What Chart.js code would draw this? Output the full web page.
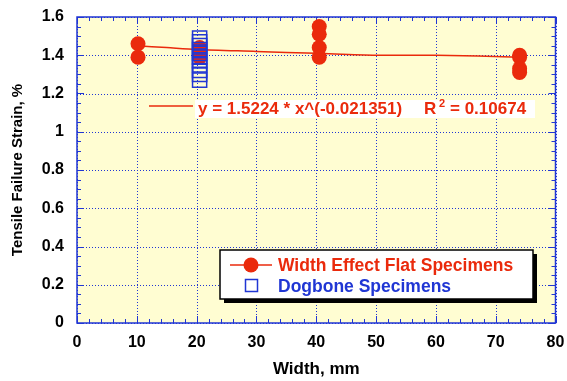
<!DOCTYPE html>
<html>
<head>
<meta charset="utf-8">
<script src="https://cdn.jsdelivr.net/npm/chart.js@4.4.1/dist/chart.umd.min.js"></script>
<style>
	html, body { margin: 0; padding: 0; background: #ffffff; }
	#wrap { width: 567px; height: 381px; position: relative; }
</style>
</head>
<body>
<div id="wrap"><canvas id="strainChart"></canvas></div>
<script>
// Width effect flat specimens (mm, %)
const flatWidth = [10.2, 10.2, 20.5, 20.5, 20.5, 40.5, 40.5, 40.5, 40.5, 74, 74, 74, 74];
const flatStrain = [1.46, 1.39, 1.44, 1.42, 1.39, 1.55, 1.51, 1.44, 1.39, 1.40, 1.39, 1.33, 1.31];

// Dogbone specimens
const dogboneWidth = [20.5, 20.5, 20.5, 20.5, 20.5, 20.5, 20.5, 20.5, 20.5, 20.5, 20.5];
const dogboneStrain = [1.49, 1.47, 1.45, 1.43, 1.41, 1.39, 1.37, 1.35, 1.32, 1.30, 1.27];

// Power fit
const fitWidth = [10, 15, 20, 30, 40, 50, 60, 74];
const fitStrain = [1.45, 1.44, 1.43, 1.42, 1.41, 1.40, 1.40, 1.39];

const xTicks = [0, 10, 20, 30, 40, 50, 60, 70, 80];
const yTicks = [0, 0.2, 0.4, 0.6, 0.8, 1, 1.2, 1.4, 1.6];

const fitText = "y = 1.5224 * x^(-0.021351)";
const fitR = "R";
const fitText2 = "= 0.10674";

const RED = "#ea2a0c";
const BLUE = "#2036d4";
const FONT = "'Liberation Sans', Arial, Helvetica, sans-serif";

function pairs(xs, ys) {
	return xs.map((x, i) => ({ x: x, y: ys[i] }));
}

// Background, grid, ticks, frame, fit label and legend box
const framePlugin = {
	id: "frame",
	beforeDatasetsDraw(chart) {
		const { ctx, chartArea: a, scales } = chart;
		const xs = scales.x, ys = scales.y;
		ctx.save();
		ctx.fillStyle = "#fffdd2";
		ctx.fillRect(a.left, a.top, a.right - a.left, a.bottom - a.top);

		// dotted major grid
		ctx.strokeStyle = BLUE;
		ctx.lineWidth = 1;
		ctx.setLineDash([1, 2]);
		xTicks.forEach((v) => {
			const px = Math.round(xs.getPixelForValue(v)) + 0.5;
			ctx.beginPath(); ctx.moveTo(px, a.top); ctx.lineTo(px, a.bottom); ctx.stroke();
		});
		yTicks.forEach((v) => {
			const py = Math.round(ys.getPixelForValue(v)) + 0.5;
			ctx.beginPath(); ctx.moveTo(a.left, py); ctx.lineTo(a.right, py); ctx.stroke();
		});
		ctx.setLineDash([]);

		// inward ticks on all sides
		for (let v = 0; v <= 80; v += 2) {
			const px = Math.round(xs.getPixelForValue(v)) + 0.5;
			const len = v % 10 === 0 ? 7 : 4;
			ctx.beginPath();
			ctx.moveTo(px, a.bottom); ctx.lineTo(px, a.bottom - len);
			ctx.moveTo(px, a.top); ctx.lineTo(px, a.top + len);
			ctx.stroke();
		}
		for (let i = 0; i <= 32; i++) {
			const py = Math.round(ys.getPixelForValue(i * 0.05)) + 0.5;
			const len = i % 4 === 0 ? 7 : 4;
			ctx.beginPath();
			ctx.moveTo(a.left, py); ctx.lineTo(a.left + len, py);
			ctx.moveTo(a.right, py); ctx.lineTo(a.right - len, py);
			ctx.stroke();
		}

		ctx.lineWidth = 1.5;
		ctx.strokeRect(a.left, a.top, a.right - a.left, a.bottom - a.top);
		ctx.restore();
	},
	afterDatasetsDraw(chart) {
		const { ctx } = chart;
		ctx.save();
		ctx.textBaseline = "middle";

		// fit equation
		ctx.fillStyle = "#ffffff";
		ctx.fillRect(195, 100, 340, 18);
		ctx.strokeStyle = RED;
		ctx.lineWidth = 1.5;
		ctx.beginPath(); ctx.moveTo(149, 106); ctx.lineTo(193, 106); ctx.stroke();
		ctx.fillStyle = RED;
		ctx.font = "bold 17px " + FONT;
		ctx.fillText(fitText, 198, 109);
		ctx.fillText(fitR, 424, 109);
		ctx.fillText(fitText2, 450, 109);
		ctx.font = "bold 11px " + FONT;
		ctx.fillText("2", 439, 104);

		// legend box with shadow
		const lx = 220, ly = 250, lw = 313, lh = 49;
		ctx.fillStyle = "#000000";
		ctx.fillRect(lx + 4, ly + 4, lw, lh);
		ctx.fillStyle = "#ffffff";
		ctx.fillRect(lx, ly, lw, lh);
		ctx.strokeStyle = "#000000";
		ctx.lineWidth = 1.5;
		ctx.strokeRect(lx, ly, lw, lh);

		const flatDs = chart.data.datasets[1];
		const dogDs = chart.data.datasets[0];
		ctx.strokeStyle = RED;
		ctx.beginPath(); ctx.moveTo(230, 265); ctx.lineTo(272, 265); ctx.stroke();
		ctx.fillStyle = RED;
		ctx.beginPath(); ctx.arc(251, 265, 7.5, 0, Math.PI * 2); ctx.fill();
		ctx.strokeStyle = BLUE;
		ctx.strokeRect(245.5, 279.5, 12, 12);

		ctx.font = "bold 17.5px " + FONT;
		ctx.fillStyle = RED;
		ctx.fillText(flatDs.label, 278, 266);
		ctx.fillStyle = BLUE;
		ctx.fillText(dogDs.label, 278, 287);
		ctx.restore();
	},
};

const chartConfig = {
	type: "scatter",
	data: {
		datasets: [
			{
				label: "Dogbone Specimens",
				data: pairs(dogboneWidth, dogboneStrain),
				pointStyle: "rect",
				pointRadius: 10,
				borderColor: BLUE,
				backgroundColor: "rgba(0,0,0,0)",
				borderWidth: 1.5,
				order: 0,
			},
			{
				label: "Width Effect Flat Specimens",
				data: pairs(flatWidth, flatStrain),
				pointStyle: "circle",
				pointRadius: 7.5,
				borderColor: RED,
				backgroundColor: RED,
				borderWidth: 0,
				order: 1,
			},
			{
				label: "Power fit",
				data: pairs(fitWidth, fitStrain),
				showLine: true,
				pointRadius: 0,
				borderColor: RED,
				borderWidth: 1.5,
				tension: 0.3,
				order: 2,
			},
		],
	},
	options: {
		responsive: true,
		maintainAspectRatio: false,
		animation: false,
		layout: { padding: { top: 17, right: 10, left: 9, bottom: 0 } },
		plugins: {
			legend: { display: false },
			tooltip: { enabled: false },
		},
		scales: {
			x: {
				type: "linear",
				min: 0,
				max: 80,
				afterBuildTicks: (s) => { s.ticks = xTicks.map((v) => ({ value: v })); },
				afterFit: (s) => {
					s.height = 58;
					s.paddingLeft = 0;
					s.paddingRight = 0;
				},
				grid: { display: false, drawTicks: false },
				border: { display: false },
				ticks: {
					padding: 10,
					color: "#000000",
					font: { family: FONT, size: 16, weight: "bold" },
				},
				title: {
					display: true,
					text: "Width, mm",
					color: "#000000",
					padding: { top: 4, bottom: 1 },
					font: { family: FONT, size: 17, weight: "bold" },
				},
			},
			y: {
				type: "linear",
				min: 0,
				max: 1.6,
				afterBuildTicks: (s) => { s.ticks = yTicks.map((v) => ({ value: v })); },
				afterFit: (s) => {
					s.width = 68;
					s.paddingTop = 0;
					s.paddingBottom = 0;
				},
				grid: { display: false, drawTicks: false },
				border: { display: false },
				ticks: {
					padding: 13,
					color: "#000000",
					font: { family: FONT, size: 16, weight: "bold" },
					callback: (v) => String(Math.round(v * 10) / 10),
				},
				title: {
					display: true,
					text: "Tensile Failure Strain, %",
					color: "#000000",
					padding: { top: 0, bottom: 0 },
					font: { family: FONT, size: 15, weight: "bold" },
				},
			},
		},
	},
	plugins: [framePlugin],
};

new Chart(document.getElementById("strainChart"), chartConfig);
</script>
</body>
</html>
